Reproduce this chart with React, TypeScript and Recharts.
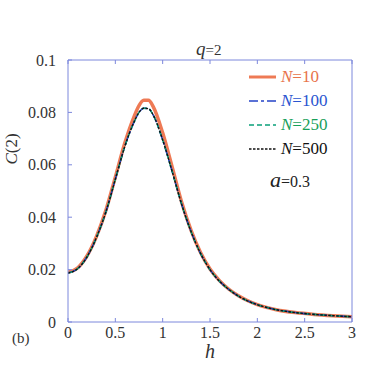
import { LineChart, Line, XAxis, YAxis, Legend, Label } from "recharts";

const hValues = [0, 0.1, 0.2, 0.3, 0.4, 0.5, 0.6, 0.7, 0.75, 0.8, 0.85, 0.9, 1.0, 1.1, 1.2, 1.3, 1.4, 1.5, 1.6, 1.7, 1.8, 1.9, 2.0, 2.2, 2.4, 2.6, 2.8, 3.0];

const cN10 = [0.019, 0.0206, 0.0252, 0.0326, 0.0426, 0.0553, 0.0683, 0.0786, 0.0826, 0.0846, 0.0846, 0.0822, 0.0722, 0.0592, 0.0458, 0.035, 0.0265, 0.0202, 0.0158, 0.0125, 0.01, 0.0081, 0.0066, 0.0047, 0.0036, 0.0029, 0.0024, 0.002];
const cN100 = [0.0187, 0.0203, 0.0248, 0.0322, 0.042, 0.0545, 0.067, 0.0765, 0.08, 0.0816, 0.0814, 0.079, 0.0695, 0.0575, 0.045, 0.0345, 0.0262, 0.02, 0.0156, 0.0124, 0.0099, 0.008, 0.0066, 0.0047, 0.0036, 0.0029, 0.0024, 0.002];
const cN250 = [0.0187, 0.0203, 0.0248, 0.0322, 0.042, 0.0545, 0.067, 0.0765, 0.08, 0.0816, 0.0814, 0.079, 0.0695, 0.0575, 0.045, 0.0345, 0.0262, 0.02, 0.0156, 0.0124, 0.0099, 0.008, 0.0066, 0.0047, 0.0036, 0.0029, 0.0024, 0.002];
const cN500 = [0.0187, 0.0203, 0.0248, 0.0322, 0.042, 0.0545, 0.067, 0.0765, 0.08, 0.0816, 0.0814, 0.079, 0.0695, 0.0575, 0.045, 0.0345, 0.0262, 0.02, 0.0156, 0.0124, 0.0099, 0.008, 0.0066, 0.0047, 0.0036, 0.0029, 0.0024, 0.002];

const xTicks = [0, 0.5, 1, 1.5, 2, 2.5, 3];
const yTicks = [0, 0.02, 0.04, 0.06, 0.08, 0.1];

const seriesNames = ["10", "100", "250", "500"];

const data = hValues.map((h, i) => ({
  h,
  n10: cN10[i],
  n100: cN100[i],
  n250: cN250[i],
  n500: cN500[i],
}));

const AXIS = "#7d88dc";
const FONT = "'Liberation Serif', 'Times New Roman', Times, 'DejaVu Serif', serif";

const styles = [
  { key: "n10", stroke: "#ee7a55", width: 3.5, dash: undefined, text: "#e8734a" },
  { key: "n100", stroke: "#2443c8", width: 1.6, dash: "9 3 3 3", text: "#2a55d0" },
  { key: "n250", stroke: "#0aa07a", width: 1.6, dash: "5 3", text: "#17a05a" },
  { key: "n500", stroke: "#111111", width: 1.4, dash: "2.5 1.5", text: "#111111" },
];

function LegendBox() {
  return (
    <div style={{ fontFamily: FONT, fontSize: 17, lineHeight: "24px" }}>
      {styles.map((s, i) => (
        <div key={s.key} style={{ display: "flex", alignItems: "center", height: 24 }}>
          <svg width={30} height={10} style={{ marginRight: 3 }}>
            <line
              x1={1}
              y1={5}
              x2={28}
              y2={5}
              stroke={s.stroke}
              strokeWidth={s.width > 2 ? 3 : 1.6}
              strokeDasharray={s.dash}
            />
          </svg>
          <span style={{ color: s.text }}>
            <i>N</i>={seriesNames[i]}
          </span>
        </div>
      ))}
    </div>
  );
}

export default function App() {
  return (
    <div
      style={{
        position: "absolute",
        left: 0,
        top: 0,
        width: 374,
        height: 368,
        background: "#fff",
        fontFamily: FONT,
      }}
    >
      <LineChart
        width={374}
        height={368}
        data={data}
        margin={{ top: 59, right: 21, bottom: 6, left: 28 }}
      >
        <XAxis
          dataKey="h"
          type="number"
          domain={[0, 3]}
          ticks={xTicks}
          allowDataOverflow
          stroke={AXIS}
          tickSize={-4}
          tickMargin={9}
          height={40}
          tick={{ fill: "#333", fontSize: 16, fontFamily: FONT }}
        >
          <Label
            value="h"
            position="insideBottom"
            offset={4}
            style={{ fill: "#333", fontSize: 20, fontStyle: "italic", fontFamily: FONT }}
          />
        </XAxis>
        <XAxis
          xAxisId="top"
          dataKey="h"
          type="number"
          orientation="top"
          domain={[0, 3]}
          ticks={xTicks}
          stroke={AXIS}
          tickSize={-4}
          height={1}
          tickFormatter={() => ""}
        />
        <YAxis
          type="number"
          domain={[0, 0.1]}
          ticks={yTicks}
          allowDataOverflow
          stroke={AXIS}
          tickSize={-4}
          tickMargin={16}
          width={40}
          tickFormatter={(v: number) => String(v)}
          tick={{ fill: "#333", fontSize: 16, fontFamily: FONT }}
        >
          <Label
            content={() => (
              <text
                x={17}
                y={149}
                transform="rotate(-90 17 149)"
                textAnchor="middle"
                fontFamily={FONT}
                fontSize={17}
                fill="#333"
              >
                <tspan fontStyle="italic">C</tspan>
                <tspan>(2)</tspan>
              </text>
            )}
          />
        </YAxis>
        <YAxis
          yAxisId="right"
          orientation="right"
          type="number"
          domain={[0, 0.1]}
          ticks={yTicks}
          stroke={AXIS}
          tickSize={-4}
          width={1}
          tickFormatter={() => ""}
        />
        <Legend
          layout="horizontal"
          verticalAlign="middle"
          align="center"
          content={() => <LegendBox />}
          wrapperStyle={{ top: 65, left: 248, width: 110, height: 100 }}
        />
        {styles.map((s) => (
          <Line
            key={s.key}
            type="monotone"
            dataKey={s.key}
            stroke={s.stroke}
            strokeWidth={s.width}
            strokeDasharray={s.dash}
            dot={false}
            isAnimationActive={false}
          />
        ))}
      </LineChart>
      <div
        style={{
          position: "absolute",
          left: 196,
          top: 40,
          lineHeight: "18px",
          fontSize: 19,
          color: "#333",
        }}
      >
        <i>q</i>
        <span style={{ fontSize: 15 }}>=2</span>
      </div>
      <div
        style={{
          position: "absolute",
          left: 270,
          top: 171,
          lineHeight: "18px",
          fontSize: 18,
          color: "#222",
        }}
      >
        <i style={{ fontSize: 22 }}>a</i>
        <span style={{ fontSize: 16 }}>=0.3</span>
      </div>
      <div
        style={{
          position: "absolute",
          left: 12,
          top: 330,
          lineHeight: "16px",
          fontSize: 15,
          color: "#333",
        }}
      >
        (b)
      </div>
    </div>
  );
}
